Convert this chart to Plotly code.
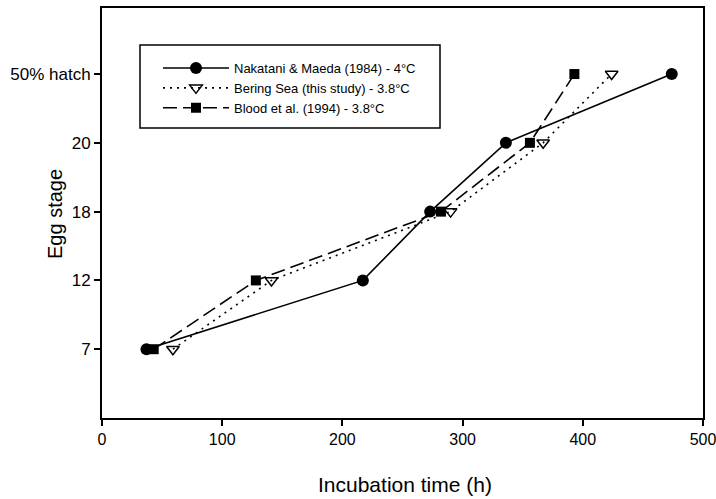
import plotly.graph_objects as go

stage_labels = ["7", "12", "18", "20", "50% hatch"]
stage_pos = [1, 2, 3, 4, 5]

nakatani_x = [37, 217, 273, 336, 474]
bering_x = [59, 141, 290, 367, 424]
blood_x = [43, 128, 282, 356, 393]

names = ["Nakatani & Maeda (1984) - 4°C",
         "Bering Sea (this study) - 3.8°C",
         "Blood et al. (1994) - 3.8°C"]

fig = go.Figure()
fig.add_trace(go.Scatter(
    x=nakatani_x, y=stage_pos, name=names[0], mode="lines+markers",
    line=dict(color="black", width=1.6, dash="solid"),
    marker=dict(symbol="circle", size=12, color="black")))
fig.add_trace(go.Scatter(
    x=bering_x, y=stage_pos, name=names[1], mode="lines+markers",
    line=dict(color="black", width=1.6, dash="2px,5px"),
    marker=dict(symbol="triangle-down-open", size=11, color="black",
                line=dict(width=1.5, color="black"))))
fig.add_trace(go.Scatter(
    x=blood_x, y=stage_pos, name=names[2], mode="lines+markers",
    line=dict(color="black", width=1.6, dash="14px,6px"),
    marker=dict(symbol="square", size=10, color="black")))

font_family = "Liberation Sans, Arial, sans-serif"

# plot area in page px: x 102..703, y 8..418
pw, ph = 601.0, 410.0
def px_x(p):
    return (p - 102) / pw
def px_y(p):
    return (418 - p) / ph

fig.add_shape(type="rect", xref="paper", yref="paper",
              x0=px_x(140), x1=px_x(440), y0=px_y(128), y1=px_y(45),
              line=dict(color="black", width=1.5), fillcolor="white", layer="below")

fig.add_annotation(text="Egg stage", xref="paper", yref="paper",
                   x=px_x(55), y=px_y(214), xanchor="center", yanchor="middle",
                   textangle=-90, showarrow=False,
                   font=dict(size=20, color="black", family=font_family))
fig.add_annotation(text="Incubation time (h)", xref="paper", yref="paper",
                   x=px_x(405), y=px_y(485), xanchor="center", yanchor="middle",
                   showarrow=False,
                   font=dict(size=21, color="black", family=font_family))

fig.update_layout(
    width=716, height=499,
    margin=dict(l=102, r=13, t=8, b=81, autoexpand=False),
    paper_bgcolor="white", plot_bgcolor="white",
    font=dict(family=font_family, color="black", size=16),
    showlegend=True,
    legend=dict(x=px_x(158), y=px_y(53), xanchor="left", yanchor="top",
                borderwidth=0, bgcolor="rgba(0,0,0,0)",
                font=dict(size=13, family=font_family, color="black"),
                itemwidth=66, tracegroupgap=0,
                traceorder="normal"),
    xaxis=dict(range=[0, 500], tickvals=[0, 100, 200, 300, 400, 500],
               showgrid=False, zeroline=False, showline=True, linecolor="black",
               linewidth=2, mirror=True, ticks="outside", ticklen=6,
               tickwidth=1.5, tickcolor="black", automargin=False,
               ticklabeloverflow="allow",
               tickfont=dict(size=16)),
    yaxis=dict(range=[0, 5.96], tickvals=stage_pos, ticktext=stage_labels,
               showgrid=False, zeroline=False, showline=True, linecolor="black",
               linewidth=2, mirror=True, ticks="outside", ticklen=6,
               tickwidth=1.5, tickcolor="black", automargin=False,
               ticklabeloverflow="allow",
               tickfont=dict(size=17)),
)

fig.write_html(
    "out.html",
    config={"displayModeBar": False},
    post_script=(
        "document.body.style.margin='0';"
        "document.body.style.overflow='hidden';"
        "document.documentElement.style.overflow='hidden';"
    ),
)
